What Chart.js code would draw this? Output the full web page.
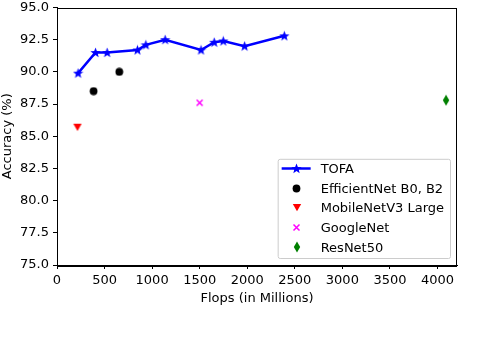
<!DOCTYPE html>
<html>
<head>
<meta charset="utf-8">
<script src="https://cdn.jsdelivr.net/npm/chart.js@4/dist/chart.umd.min.js"></script>
<style>
html,body{margin:0;padding:0;background:#fff;}
#wrap{width:492px;height:340px;position:relative;}
</style>
</head>
<body>
<div id="wrap"><canvas id="c" width="492" height="340"></canvas></div>
<script>
// ---- data ----
const tofaFlops = [222, 405, 527, 846, 934, 1137, 1514, 1653, 1748, 1972, 2390];
const tofaAcc   = [89.9, 91.5, 91.5, 91.7, 92.1, 92.5, 91.7, 92.3, 92.4, 92.0, 92.8];
const effFlops  = [385, 655];
const effAcc    = [88.5, 90.0];
const mobFlops  = [215];
const mobAcc    = [85.7];
const gooFlops  = [1500];
const gooAcc    = [87.6];
const resFlops  = [4090];
const resAcc    = [87.8];
const seriesLabels = ['TOFA', 'EfficientNet B0, B2', 'MobileNetV3 Large', 'GoogleNet', 'ResNet50'];
const xTickValues = [0, 500, 1000, 1500, 2000, 2500, 3000, 3500, 4000];
const yTickValues = [75.0, 77.5, 80.0, 82.5, 85.0, 87.5, 90.0, 92.5, 95.0];

function pts(xs, ys){ return xs.map((x,i)=>({x:x, y:ys[i]})); }

// ---- marker images ----
function mk(w, h, draw){
  const c = document.createElement('canvas'); c.width = w; c.height = h;
  const g = c.getContext('2d'); draw(g, w, h); return c;
}
const starImg = mk(11, 11, (g)=>{
  g.fillStyle = '#0000ff'; g.beginPath();
  const cx=5.5, cy=5.8, R=5.4, r=2.3;
  for(let i=0;i<10;i++){
    const a = -Math.PI/2 + i*Math.PI/5; const rr = i%2? r : R;
    const x = cx + rr*Math.cos(a), y = cy + rr*Math.sin(a);
    i? g.lineTo(x,y) : g.moveTo(x,y);
  }
  g.closePath(); g.fill();
});
const dotImg = mk(9, 9, (g)=>{ g.fillStyle='#000'; g.beginPath(); g.arc(4.5,4.5,3.9,0,Math.PI*2); g.fill(); });
const triImg = mk(10, 9, (g)=>{ g.fillStyle='#ff0000'; g.beginPath(); g.moveTo(0.8,1); g.lineTo(9.2,1); g.lineTo(5,8.3); g.closePath(); g.fill(); });
const xImg = mk(9, 9, (g)=>{ g.strokeStyle='#ff00ff'; g.lineWidth=1.5; g.beginPath(); g.moveTo(1.5,1.5); g.lineTo(7.5,7.5); g.moveTo(7.5,1.5); g.lineTo(1.5,7.5); g.stroke(); });
const diaImg = mk(8, 12, (g)=>{ g.fillStyle='#008000'; g.beginPath(); g.moveTo(4,0.5); g.lineTo(7.2,6); g.lineTo(4,11.5); g.lineTo(0.8,6); g.closePath(); g.fill(); });

const FONT = "'DejaVu Sans', sans-serif";

const boxLegend = {
  id: 'boxLegend',
  afterDraw(chart){
    const ctx = chart.ctx, a = chart.chartArea;
    ctx.save();
    ctx.strokeStyle = '#000'; ctx.lineWidth = 1;
    ctx.strokeRect(Math.round(a.left)+0.5, Math.round(a.top)+0.5, Math.round(a.right-a.left)-1, Math.round(a.bottom-a.top));
    ctx.font = "13px " + FONT;
    const ds = chart.data.datasets;
    let maxW = 0; ds.forEach(d=>{ maxW = Math.max(maxW, ctx.measureText(d.label).width); });
    const rowH = 19.7, padTop = 9.7;
    const w = 43 + maxW + 6, h = padTop*2 + rowH*(ds.length-1) + 1;
    const x0 = a.right - 7 - w, y0 = a.bottom - 7 - h;
    ctx.fillStyle = 'rgba(255,255,255,0.8)'; ctx.strokeStyle = '#cccccc';
    ctx.beginPath();
    if (ctx.roundRect) ctx.roundRect(x0+0.5, y0+0.5, w, h, 2); else ctx.rect(x0+0.5, y0+0.5, w, h);
    ctx.fill(); ctx.stroke();
    ds.forEach((d,i)=>{
      const y = y0 + padTop + i*rowH;
      const mx = x0 + 19;
      if (d.showLine){
        ctx.strokeStyle = d.borderColor; ctx.lineWidth = d.borderWidth;
        ctx.beginPath(); ctx.moveTo(x0+4, y); ctx.lineTo(x0+33, y); ctx.stroke();
      }
      const img = d.pointStyle;
      ctx.drawImage(img, Math.round(mx - img.width/2), Math.round(y - img.height/2));
      ctx.fillStyle = '#000'; ctx.textBaseline = 'middle'; ctx.textAlign = 'left';
      ctx.fillText(d.label, x0 + 43, y + 1);
    });
    ctx.restore();
  }
};

new Chart(document.getElementById('c'), {
  type: 'scatter',
  data: {
    datasets: [
      { label: seriesLabels[0], data: pts(tofaFlops, tofaAcc), showLine: true, borderColor: '#0000ff', backgroundColor: '#0000ff', borderWidth: 2.5, pointStyle: starImg, pointRadius: 5 },
      { label: seriesLabels[1], data: pts(effFlops, effAcc), showLine: false, borderColor: '#000', backgroundColor: '#000', pointStyle: dotImg, pointRadius: 4 },
      { label: seriesLabels[2], data: pts(mobFlops, mobAcc), showLine: false, borderColor: '#ff0000', backgroundColor: '#ff0000', pointStyle: triImg, pointRadius: 4 },
      { label: seriesLabels[3], data: pts(gooFlops, gooAcc), showLine: false, borderColor: '#ff00ff', backgroundColor: '#ff00ff', pointStyle: xImg, pointRadius: 4 },
      { label: seriesLabels[4], data: pts(resFlops, resAcc), showLine: false, borderColor: '#008000', backgroundColor: '#008000', pointStyle: diaImg, pointRadius: 5 }
    ]
  },
  options: {
    responsive: false,
    animation: false,
    events: [],
    layout: { padding: { left: 0, right: 35, top: 5, bottom: 34 } },
    plugins: { legend: { display: false }, tooltip: { enabled: false } },
    scales: {
      x: {
        type: 'linear', min: 0, max: 4205,
        afterBuildTicks(s){ s.ticks = xTickValues.map(v=>({value:v})); },
        afterFit(s){ s.height = 41; s.paddingLeft = 0; s.paddingRight = 0; },
        ticks: { autoSkip: false, color: '#000', font: { family: FONT, size: 13 }, padding: 4, maxRotation: 0, minRotation: 0, callback: v => String(v) },
        grid: { drawOnChartArea: false, tickLength: 4, color: '#000', tickColor: '#000' },
        border: { display: true, color: '#000', width: 1 },
        title: { display: true, text: 'Flops (in Millions)', color: '#000', font: { family: FONT, size: 13 }, padding: { top: 0, bottom: 0 } }
      },
      y: {
        type: 'linear', min: 75, max: 95,
        afterBuildTicks(s){ s.ticks = yTickValues.map(v=>({value:v})); },
        afterFit(s){ s.width = 57; s.paddingTop = 0; s.paddingBottom = 0; },
        ticks: { autoSkip: false, color: '#000', font: { family: FONT, size: 13 }, padding: 4, callback: v => Number(v).toFixed(1) },
        grid: { drawOnChartArea: false, tickLength: 4, color: '#000', tickColor: '#000' },
        border: { display: true, color: '#000', width: 1 },
        title: { display: true, text: 'Accuracy (%)', color: '#000', font: { family: FONT, size: 13 }, padding: { top: 0, bottom: 0 } }
      }
    }
  },
  plugins: [boxLegend]
});
</script>
</body>
</html>
